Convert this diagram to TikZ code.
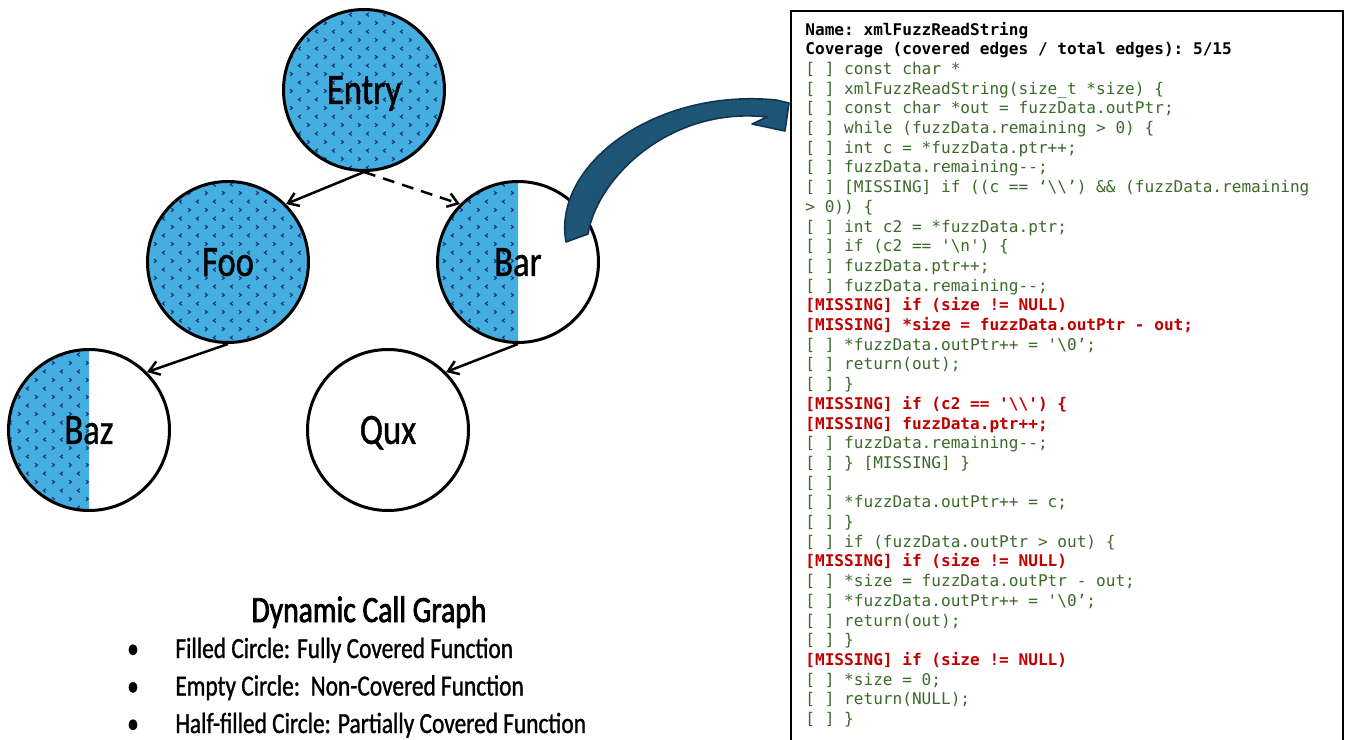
\documentclass[tikz,border=0pt]{standalone}
\usepackage{fontspec}
\setmonofont{DejaVu Sans Mono}
\newfontfamily\labelfont{Carlito}[FakeStretch=0.8,FakeBold=1]
\newfontfamily\titlefont{Carlito}[FakeStretch=0.8,FakeBold=2]
\usetikzlibrary{arrows.meta,patterns}
\pgfdeclarelayer{background}
\pgfsetlayers{background,main}
\definecolor{covblue}{HTML}{45AEE0}
\definecolor{marknavy}{HTML}{183A78}
\definecolor{codegreen}{HTML}{3B6A2A}
\definecolor{codered}{HTML}{C00000}
\definecolor{bigarrow}{HTML}{1E5476}
\definecolor{bigarrowedge}{HTML}{0F3550}
\pgfdeclarepatternformonly{chev}{\pgfqpoint{-1pt}{-1pt}}{\pgfqpoint{9.5pt}{9.5pt}}{\pgfqpoint{8.5pt}{8.5pt}}{%
 \pgfsetlinewidth{0.6pt}%
 \pgfpathmoveto{\pgfqpoint{0.5pt}{2.4pt}}\pgfpathlineto{\pgfqpoint{1.7pt}{1.5pt}}\pgfpathlineto{\pgfqpoint{0.5pt}{0.6pt}}%
 \pgfpathmoveto{\pgfqpoint{5.9pt}{6.6pt}}\pgfpathlineto{\pgfqpoint{4.7pt}{5.7pt}}\pgfpathlineto{\pgfqpoint{5.9pt}{4.8pt}}%
 \pgfusepath{stroke}}
\newcommand\cl[3]{\node[codeline,#2] (l#1) at (805,{35+19.7*#1}) {#3};}
\begin{document}
\begin{tikzpicture}[x=0.5pt,y=-0.5pt,
  fn/.style={circle, draw=black, line width=1.5pt, minimum size=80.5pt, inner sep=0pt,
    font=\labelfont\fontsize{21.6}{24}\selectfont, text height=13.9pt, text depth=0pt},
  covfill/.style={fill=covblue, postaction={pattern=chev, pattern color=marknavy}},
  call/.style={line width=1.25pt, -{Straight Barb[length=5pt,width=7pt]}},
  codeline/.style={anchor=base west, inner sep=0pt, font=\ttfamily\fontsize{8.05}{9.8}\selectfont},
  lgreen/.style={text=codegreen},
  lred/.style={text=codered, font=\ttfamily\bfseries\fontsize{8.05}{9.8}\selectfont},
  lhead/.style={text=black, font=\ttfamily\bfseries\fontsize{8.05}{9.8}\selectfont},
  legend/.style={inner sep=0pt, font=\labelfont\fontsize{14.6}{17}\selectfont},
]
\clip (0,0) rectangle (1346,740);

% call graph nodes
\node[fn] (Entry) at (364,90) {Entry};
\node[fn] (Foo) at (228,262) {Foo};
\node[fn] (Bar) at (518,262) {Bar};
\node[fn] (Baz) at (89,430) {Baz};
\node[fn] (Qux) at (388,430) {Qux};

\begin{pgfonlayer}{background}
  \fill[white] (0,0) rectangle (1346,740);
  \path[covfill] (Entry.center) circle[radius=40.25pt];
  \path[covfill] (Foo.center) circle[radius=40.25pt];
  \path[covfill] (Bar.center) ++(90:40.25pt) arc[start angle=90, end angle=270, radius=40.25pt] -- cycle;
  \path[covfill] (Baz.center) ++(90:40.25pt) arc[start angle=90, end angle=270, radius=40.25pt] -- cycle;
\end{pgfonlayer}

\draw[call] (Entry.south) -- (Foo.45);
\draw[call, dash pattern=on 6pt off 4pt] (Entry.south) -- (Bar.135);
\draw[call] (Foo.south) -- (Baz.45);
\draw[call] (Bar.south) -- (Qux.45);

% big curved arrow from Bar to the code box
\fill[bigarrow, draw=bigarrowedge, line width=0.8pt, line join=round]
  (566,242) .. controls (552,165) and (655,88) .. (776,100) -- (789,103) -- (785,131)
  -- (752,124) -- (767,117) .. controls (670,106) and (597,178) .. (588,234) -- cycle;

% legend
\node[inner sep=0pt, anchor=base, font=\titlefont\fontsize{18.5}{21}\selectfont] (title) at (369,622) {Dynamic Call Graph};
\node[legend, anchor=base] (b1) at (133,658) {•};
\node[legend, anchor=base west] (t1) at (175,658) {Filled Circle: Fully Covered Function};
\node[legend, anchor=base] (b2) at (133,695.5) {•};
\node[legend, anchor=base west] (t2) at (175,695.5) {Empty Circle:\ \ Non-Covered Function};
\node[legend, anchor=base] (b3) at (133,733) {•};
\node[legend, anchor=base west] (t3) at (175,733) {Half-filled Circle: Partially Covered Function};

% code box
\draw[line width=1.3pt] (791,11) rectangle (1343,760);
\cl{0}{lhead}{Name: xmlFuzzReadString}
\cl{1}{lhead}{Coverage (covered edges / total edges): 5/15}
\cl{2}{lgreen}{[ ] const char *}
\cl{3}{lgreen}{[ ] xmlFuzzReadString(size\_t *size) \{}
\cl{4}{lgreen}{[ ] const char *out = fuzzData.outPtr;}
\cl{5}{lgreen}{[ ] while (fuzzData.remaining > 0) \{}
\cl{6}{lgreen}{[ ] int c = *fuzzData.ptr++;}
\cl{7}{lgreen}{[ ] fuzzData.remaining--;}
\cl{8}{lgreen}{[ ] [MISSING] if ((c == ‘\textbackslash\textbackslash’) \&\& (fuzzData.remaining}
\cl{9}{lgreen}{> 0)) \{}
\cl{10}{lgreen}{[ ] int c2 = *fuzzData.ptr;}
\cl{11}{lgreen}{[ ] if (c2 == '\textbackslash n') \{}
\cl{12}{lgreen}{[ ] fuzzData.ptr++;}
\cl{13}{lgreen}{[ ] fuzzData.remaining--;}
\cl{14}{lred}{[MISSING] if (size != NULL)}
\cl{15}{lred}{[MISSING] *size = fuzzData.outPtr - out;}
\cl{16}{lgreen}{[ ] *fuzzData.outPtr++ = '\textbackslash 0’;}
\cl{17}{lgreen}{[ ] return(out);}
\cl{18}{lgreen}{[ ] \}}
\cl{19}{lred}{[MISSING] if (c2 == '\textbackslash\textbackslash') \{}
\cl{20}{lred}{[MISSING] fuzzData.ptr++;}
\cl{21}{lgreen}{[ ] fuzzData.remaining--;}
\cl{22}{lgreen}{[ ] \} [MISSING] \}}
\cl{23}{lgreen}{[ ]}
\cl{24}{lgreen}{[ ] *fuzzData.outPtr++ = c;}
\cl{25}{lgreen}{[ ] \}}
\cl{26}{lgreen}{[ ] if (fuzzData.outPtr > out) \{}
\cl{27}{lred}{[MISSING] if (size != NULL)}
\cl{28}{lgreen}{[ ] *size = fuzzData.outPtr - out;}
\cl{29}{lgreen}{[ ] *fuzzData.outPtr++ = '\textbackslash 0’;}
\cl{30}{lgreen}{[ ] return(out);}
\cl{31}{lgreen}{[ ] \}}
\cl{32}{lred}{[MISSING] if (size != NULL)}
\cl{33}{lgreen}{[ ] *size = 0;}
\cl{34}{lgreen}{[ ] return(NULL);}
\cl{35}{lgreen}{[ ] \}}
\end{tikzpicture}
\end{document}
